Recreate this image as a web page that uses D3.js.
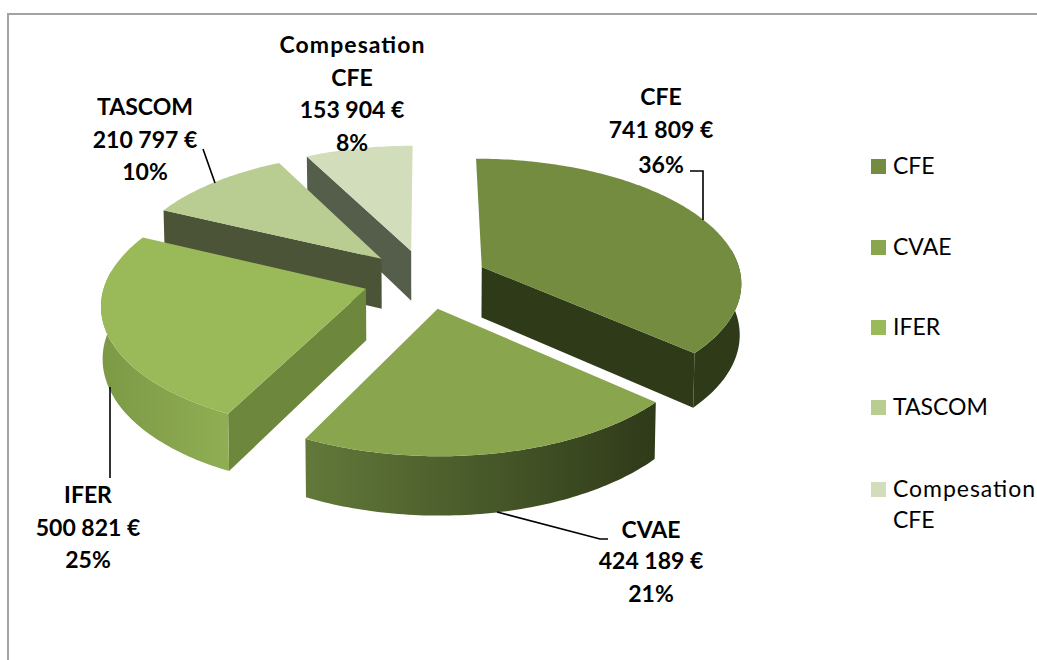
<!DOCTYPE html>
<html><head><meta charset="utf-8">
<script src="https://cdn.jsdelivr.net/npm/d3@7/dist/d3.min.js"></script>
<style>html,body{margin:0;padding:0;background:#fff}svg{display:block}text{font-family:Lato,Carlito,sans-serif;fill:#000}</style>
</head><body><svg id="c" width="1037" height="660"></svg>
<script>
const categories = ["CFE","CVAE","IFER","TASCOM","Compesation CFE"];
const values = [741809,424189,500821,210797,153904];
const amountLabels = ["741 809 €","424 189 €","500 821 €","210 797 €","153 904 €"];
const percentLabels = ["36%","21%","25%","10%","8%"];
const topColors = ["#738c3f","#89a64e","#9aba59","#b9cd93","#d1ddbb"];
const wallColors = ["#2f3a19","#2f3a19","#6d873d","#4c5437","#555d4b"];
const arcLeftColors = ["#2f3a19","#62793a","#7c9945","#4c5437","#555d4b"];
const arcRightColors = ["#2f3a19","#2f3a19","#90ae53","#4c5437","#555d4b"];

const layout = {
  cx:425.5, horizon:-802, H:1081, depth:51, kx:260, b:0.114, explode:0.24, bottomShrink:0.995, wallCos:0.15,
  labels:[
    {x:661,ys:[97,130,165],lines:["CFE"]},
    {x:651,ys:[530,561,594],lines:["CVAE"]},
    {x:88,ys:[495,528,560],lines:["IFER"]},
    {x:145,ys:[107,140,172],lines:["TASCOM"]},
    {x:352,ys:[45,78,110,143],lines:["Compesation","CFE"]}
  ],
  leaders:[
    [[703,220],[703,171],[690,171]],
    [[497,512],[600,539],[608,539]],
    [[110,387],[110,478]],
    [[215,183],[203,149]]
  ],
  legendY:[166,247,327,407,489]
};

const svg = d3.select("#c");
const defs = svg.append("defs");

// Chart frame
svg.append("path").attr("d","M8,660V14H1037").attr("fill","none").attr("stroke","#a3a3a3").attr("stroke-width",2);

const pie = d3.pie().sort(null).startAngle(0).endAngle(2*Math.PI);
const arcs = pie(values);

const sx = d3.scaleLinear().domain([0,1]).range([layout.cx,layout.cx+layout.kx]);
function project(X,Y,bottom){
  const s = 1/(1+layout.b*Y);
  const shrink = bottom?layout.bottomShrink:1;
  return [sx(X*s*shrink), layout.horizon+(layout.H+(bottom?layout.depth:0))*s];
}
function apexOf(d){
  const m=(d.startAngle+d.endAngle)/2;
  return [layout.explode*Math.sin(m),layout.explode*Math.cos(m)];
}
function rim(d,a,bottom){
  const [ex,ey]=apexOf(d);
  return project(ex+Math.sin(a),ey+Math.cos(a),bottom);
}
function angles(d){
  const n=Math.ceil((d.endAngle-d.startAngle)/(Math.PI/180));
  return d3.range(n+1).map(i=>d.startAngle+(d.endAngle-d.startAngle)*i/n);
}
const line = d3.line();
const closed = pts=>line(pts)+"Z";

const order=[4,3,2,0,1];
order.forEach(i=>{
  const d=arcs[i];
  const [ex,ey]=apexOf(d);
  const apexT=project(ex,ey,false), apexB=project(ex,ey,true);
  const as=angles(d);
  const top=as.map(a=>rim(d,a,false)), bot=as.map(a=>rim(d,a,true));
  const g=svg.append("g").attr("class","slice");
  const id="grad"+i;
  const xs=top.map(p=>p[0]);
  const grad=defs.append("linearGradient").attr("id",id).attr("gradientUnits","userSpaceOnUse")
    .attr("x1",d3.min(xs)).attr("x2",d3.max(xs)).attr("y1",0).attr("y2",0);
  grad.append("stop").attr("offset",0).attr("stop-color",arcLeftColors[i]);
  grad.append("stop").attr("offset",1).attr("stop-color",arcRightColors[i]);
  // radial walls: only those that face the viewer
  const tS=top[0], bS=bot[0], tE=top[top.length-1], bE=bot[bot.length-1];
  if(tS[0]-apexT[0]<-10) g.append("path").attr("d",closed([apexT,tS,bS,apexB])).attr("fill",wallColors[i]);
  if(tE[0]-apexT[0]>10) g.append("path").attr("d",closed([apexT,tE,bE,apexB])).attr("fill",wallColors[i]);
  // outer wall: only the front-facing part of the rim
  const front=as.filter(a=>Math.cos(a)<layout.wallCos);
  if(front.length>1){
    const ft=front.map(a=>rim(d,a,false)), fb=front.map(a=>rim(d,a,true));
    g.append("path").attr("d",closed(ft.concat(fb.reverse()))).attr("fill",`url(#${id})`);
  }
  // top face
  g.append("path").attr("d",closed([apexT].concat(top))).attr("fill",topColors[i]);
});

// Leaders
layout.leaders.forEach(p=>svg.append("path").attr("d",line(p)).attr("fill","none").attr("stroke","#000").attr("stroke-width",1.6));

// Data labels
layout.labels.forEach((l,i)=>{
  const lines=l.lines.concat([amountLabels[i],percentLabels[i]]);
  lines.forEach((t,j)=>{
    const el=svg.append("text").attr("x",l.x).attr("y",l.ys[j]).attr("dy","0.35em")
      .attr("text-anchor","middle").attr("font-size",23).attr("font-weight",700).text(t);
    if(t==="Compesation") el.attr("textLength",145);
  });
});

// Legend
categories.forEach((c,i)=>{
  const y=layout.legendY[i];
  svg.append("rect").attr("x",871).attr("y",y-7).attr("width",15).attr("height",15).attr("fill",topColors[i]);
  const words=c==="Compesation CFE"?["Compesation","CFE"]:[c];
  words.forEach((w,j)=>{
    const el=svg.append("text").attr("x",893).attr("y",y+j*31).attr("dy","0.35em").attr("font-size",23).text(w);
    if(w==="Compesation") el.attr("textLength",142);
  });
});
</script></body></html>
